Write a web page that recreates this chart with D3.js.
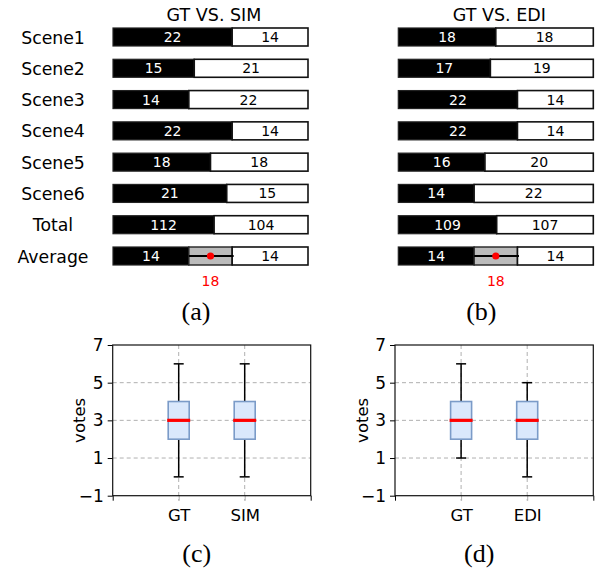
<!DOCTYPE html>
<html><head><meta charset="utf-8">
<script src="https://cdn.jsdelivr.net/npm/d3@7"></script>
<style>body{margin:0;background:#fff}svg{display:block}</style>
</head><body>
<svg id="c" width="602" height="574"></svg>
<script>
// ---------- data ----------
const rowLabels = ["Scene1","Scene2","Scene3","Scene4","Scene5","Scene6","Total"];
const avgLabel = "Average";
const titleA = "GT VS. SIM";
const titleB = "GT VS. EDI";
const gtVotesA = [22,15,14,22,18,21,112];
const otherVotesA = [14,21,22,14,18,15,104];
const gtVotesB = [18,17,22,22,16,14,109];
const otherVotesB = [18,19,14,14,20,22,107];
const avgSegA = [14,8,14];   // black, grey (tie band), white
const avgSegB = [14,8,14];
const avgMidA = 18;
const avgMidB = 18;

const boxNamesC = ["GT","SIM"];
const boxNamesD = ["GT","EDI"];
const whiskLoC = [0,0], q1C = [2,2], medC = [3,3], q3C = [4,4], whiskHiC = [6,6];
const whiskLoD = [1,0], q1D = [2,2], medD = [3,3], q3D = [4,4], whiskHiD = [6,5];
const yTicks = [-1,1,3,5,7];
const subLabels = ["(a)","(b)","(c)","(d)"];

// ---------- drawing ----------
const svg = d3.select("#c");
const SANS = "DejaVu Sans";
const SERIF = "Liberation Serif";

const allLabels = rowLabels.concat([avgLabel]);
const yRow = d3.scalePoint().domain(allLabels).range([37,256]);
const barH = 18;

// row labels
svg.append("g").selectAll("text").data(allLabels).join("text")
  .attr("x",53).attr("y",d=>yRow(d)+6.5)
  .attr("text-anchor","middle").attr("font-family",SANS).attr("font-size",17.3)
  .text(d=>d);

function stackPanel(x0,x1,title,gt,other,avgSeg,avgMid,sub){
  const g = svg.append("g");
  const cx = (x0+x1)/2;
  g.append("text").attr("x",cx+3.5).attr("y",20.5).attr("text-anchor","middle")
    .attr("font-family",SANS).attr("font-size",17.5).text(title);
  rowLabels.forEach((lab,i)=>{
    const x = d3.scaleLinear().domain([0,gt[i]+other[i]]).range([x0,x1]);
    const y = yRow(lab)-barH/2;
    g.append("rect").attr("x",x(0)).attr("y",y).attr("width",x(gt[i])-x(0)).attr("height",barH)
      .attr("fill","#000").attr("stroke","#222").attr("stroke-width",1.2);
    g.append("rect").attr("x",x(gt[i])).attr("y",y).attr("width",x(gt[i]+other[i])-x(gt[i])).attr("height",barH)
      .attr("fill","#fff").attr("stroke","#111").attr("stroke-width",1.6);
    g.append("text").attr("x",(x(0)+x(gt[i]))/2).attr("y",yRow(lab)+5).attr("text-anchor","middle")
      .attr("font-family",SANS).attr("font-size",14).attr("fill","#fff").text(gt[i]);
    g.append("text").attr("x",(x(gt[i])+x(gt[i]+other[i]))/2).attr("y",yRow(lab)+5).attr("text-anchor","middle")
      .attr("font-family",SANS).attr("font-size",14).attr("fill","#000").text(other[i]);
  });
  // average row
  const tot = d3.sum(avgSeg);
  const x = d3.scaleLinear().domain([0,tot]).range([x0,x1]);
  const yc = yRow(avgLabel), y = yc-barH/2;
  const c1 = avgSeg[0], c2 = avgSeg[0]+avgSeg[1];
  g.append("rect").attr("x",x(0)).attr("y",y).attr("width",x(c1)-x(0)).attr("height",barH)
    .attr("fill","#000").attr("stroke","#222").attr("stroke-width",1.2);
  g.append("rect").attr("x",x(c1)).attr("y",y).attr("width",x(c2)-x(c1)).attr("height",barH)
    .attr("fill","#bbb").attr("stroke","#222").attr("stroke-width",1.4);
  g.append("rect").attr("x",x(c2)).attr("y",y).attr("width",x(tot)-x(c2)).attr("height",barH)
    .attr("fill","#fff").attr("stroke","#111").attr("stroke-width",1.6);
  g.append("line").attr("x1",x(c1)).attr("x2",x(c2)+1.5).attr("y1",yc).attr("y2",yc)
    .attr("stroke","#000").attr("stroke-width",2);
  g.append("circle").attr("cx",(x(c1)+x(c2))/2).attr("cy",yc).attr("r",3.6).attr("fill","#f00");
  g.append("text").attr("x",(x(0)+x(c1))/2).attr("y",yc+5).attr("text-anchor","middle")
    .attr("font-family",SANS).attr("font-size",14).attr("fill","#fff").text(avgSeg[0]);
  g.append("text").attr("x",(x(c2)+x(tot))/2).attr("y",yc+5).attr("text-anchor","middle")
    .attr("font-family",SANS).attr("font-size",14).attr("fill","#000").text(avgSeg[2]);
  g.append("text").attr("x",(x(c1)+x(c2))/2).attr("y",285.5).attr("text-anchor","middle")
    .attr("font-family",SANS).attr("font-size",14).attr("fill","#f00").text(avgMid);
  g.append("text").attr("x",cx-14.5).attr("y",320).attr("text-anchor","middle")
    .attr("font-family",SERIF).attr("font-size",26).text(sub);
}
stackPanel(113,308,titleA,gtVotesA,otherVotesA,avgSegA,avgMidA,subLabels[0]);
stackPanel(398.3,593.3,titleB,gtVotesB,otherVotesB,avgSegB,avgMidB,subLabels[1]);

function boxPanel(x0,x1,names,lo,q1,med,q3,hi,sub,ylabX){
  const g = svg.append("g");
  const x = d3.scaleLinear().domain([0,names.length+1]).range([x0,x1]);
  const y = d3.scaleLinear().domain([-1,7]).range([495.7,345]);
  // grid
  g.append("g").selectAll("line").data(yTicks.filter(t=>t>-1&&t<7)).join("line")
    .attr("x1",x0).attr("x2",x1).attr("y1",d=>y(d)).attr("y2",d=>y(d))
    .attr("stroke","#b0b0b0").attr("stroke-width",1).attr("stroke-dasharray","4,3");
  g.append("g").selectAll("line").data(names).join("line")
    .attr("x1",(d,i)=>x(i+1)).attr("x2",(d,i)=>x(i+1)).attr("y1",y(7)).attr("y2",y(-1)+5)
    .attr("stroke","#b0b0b0").attr("stroke-width",1).attr("stroke-dasharray","4,3");
  // axes
  const yAxis = d3.axisLeft(y).tickValues(yTicks).tickSize(5).tickFormat(d=>d<0?"\u2212"+Math.abs(d):d);
  const ya = g.append("g").attr("transform",`translate(${x0},0)`).call(yAxis);
  ya.select(".domain").remove();
  ya.selectAll("line").attr("stroke","#000");
  ya.selectAll("text").attr("font-family",SANS).attr("font-size",17).attr("fill","#000").attr("dx",-1);
  const xAxis = d3.axisBottom(x).tickValues(d3.range(0,names.length+2)).tickSize(5)
    .tickFormat(d=>(d>=1&&d<=names.length)?names[d-1]:"");
  const xa = g.append("g").attr("transform",`translate(0,${y(-1)})`).call(xAxis);
  xa.select(".domain").remove();
  xa.selectAll(".tick line").attr("stroke",d=>(d>=1&&d<=names.length)?"#b0b0b0":"#000");
  xa.selectAll("text").attr("font-family",SANS).attr("font-size",16.5).attr("fill","#000").attr("dy","1.05em");
  // frame
  g.append("rect").attr("x",x0).attr("y",y(7)).attr("width",x1-x0).attr("height",y(-1)-y(7))
    .attr("fill","none").attr("stroke","#111").attr("stroke-width",1.2);
  // boxes
  const bw = 21, cap = 10;
  names.forEach((n,i)=>{
    const cx = x(i+1);
    g.append("line").attr("x1",cx).attr("x2",cx).attr("y1",y(hi[i])).attr("y2",y(q3[i])).attr("stroke","#000").attr("stroke-width",1.5);
    g.append("line").attr("x1",cx).attr("x2",cx).attr("y1",y(q1[i])).attr("y2",y(lo[i])).attr("stroke","#000").attr("stroke-width",1.5);
    g.append("line").attr("x1",cx-cap/2).attr("x2",cx+cap/2).attr("y1",y(hi[i])).attr("y2",y(hi[i])).attr("stroke","#000").attr("stroke-width",1.5);
    g.append("line").attr("x1",cx-cap/2).attr("x2",cx+cap/2).attr("y1",y(lo[i])).attr("y2",y(lo[i])).attr("stroke","#000").attr("stroke-width",1.5);
    g.append("rect").attr("x",cx-bw/2).attr("y",y(q3[i])).attr("width",bw).attr("height",y(q1[i])-y(q3[i]))
      .attr("fill","#dae8fc").attr("stroke","#7b9bc8").attr("stroke-width",1.6);
    g.append("line").attr("x1",cx-bw/2-1).attr("x2",cx+bw/2+1).attr("y1",y(med[i])).attr("y2",y(med[i]))
      .attr("stroke","#ff0000").attr("stroke-width",3.2);
  });
  g.append("text").attr("transform",`translate(${ylabX},${(y(7)+y(-1))/2}) rotate(-90)`)
    .attr("text-anchor","middle").attr("font-family",SANS).attr("font-size",16.5).text("votes");
  g.append("text").attr("x",(x0+x1)/2-15).attr("y",562).attr("text-anchor","middle")
    .attr("font-family",SERIF).attr("font-size",26).text(sub);
}
boxPanel(112.7,310.7,boxNamesC,whiskLoC,q1C,medC,q3C,whiskHiC,subLabels[2],85);
boxPanel(395,593.3,boxNamesD,whiskLoD,q1D,medD,q3D,whiskHiD,subLabels[3],368);
</script>
</body></html>
